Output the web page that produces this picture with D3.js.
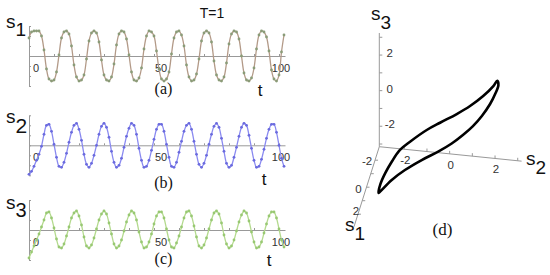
<!DOCTYPE html>
<html>
<head>
<meta charset="utf-8">
<script src="https://cdn.jsdelivr.net/npm/d3@7"></script>
<style>
  html, body { margin: 0; padding: 0; background: #fff; }
  svg { display: block; }
  text { font-family: "Liberation Sans", Arial, sans-serif; }
  .serif { font-family: "Liberation Serif", "Times New Roman", serif; }
</style>
</head>
<body>
<svg id="chart" width="550" height="275"></svg>
<script>
// time series, one sample per unit of t (t = 0 .. 102)
const s1 = [1.8,2.4,2.5,2.5,2.5,2.0,0.6,-1.3,-2.3,-2.5, -2.4,-1.6,0.1,1.8,2.4,2.5,2.2,1.0,-0.9,-2.1,
  -2.5,-2.4,-1.9,-0.3,1.5,2.3,2.5,2.3,1.4,-0.4, -1.9,-2.4,-2.5,-2.1,-0.8,1.1,2.2,2.5,2.4,1.7,
  0.1,-1.6,-2.4,-2.5,-2.2,-1.2,0.7,2.0,2.5,2.4, 2.0,0.5,-1.3,-2.3,-2.5,-2.3,-1.6,0.2,1.8,2.4,
  2.5,2.1,1.0,-0.9,-2.1,-2.5,-2.4,-1.8,-0.3,1.5, 2.3,2.5,2.3,1.4,-0.5,-1.9,-2.4,-2.5,-2.1,-0.7,
  1.2,2.2,2.5,2.4,1.7,0.0,-1.7,-2.4,-2.5,-2.2, -1.2,0.7,2.1,2.5,2.4,1.9,0.5,-1.4,-2.3,-2.5,
  -1.9,0.4,2.1];
const s2 = [-2.9,-2.6,-2.1,-1.5,-0.9,-0.1,1.1,2.0,2.1,1.4, 0.1,-1.2,-2.1,-2.2,-1.7,-0.8,0.3,1.3,2.0,2.2,
  1.6,0.5,-0.9,-1.9,-2.2,-1.8,-1.0,0.0,1.1,1.9, 2.2,1.8,0.8,-0.6,-1.7,-2.2,-2.0,-1.3,-0.2,0.9,
  1.7,2.2,2.0,1.1,-0.3,-1.5,-2.2,-2.1,-1.5,-0.5, 0.6,1.6,2.1,2.1,1.4,0.1,-1.2,-2.1,-2.2,-1.7,
  -0.7,0.4,1.4,2.0,2.2,1.6,0.4,-0.9,-1.9,-2.2, -1.8,-1.0,0.1,1.1,1.9,2.2,1.8,0.7,-0.6,-1.8,
  -2.2,-2.0,-1.2,-0.2,0.9,1.8,2.2,2.0,1.0,-0.3, -1.5,-2.2,-2.1,-1.4,-0.4,0.7,1.6,2.1,2.1,1.3,
  0.0,-1.3,-2.1];
const s3 = [-2.8,-2.2,-1.6,-1.0,-0.4,0.3,1.0,1.7,
  1.8,1.2,0.2,-0.9,-1.7,-1.8,-1.4,-0.6,0.3,1.2, 1.7,1.9,1.4,0.5,-0.7,-1.6,-1.8,-1.5,-0.8,0.1,
  1.0,1.6,1.9,1.6,0.7,-0.4,-1.4,-1.8,-1.6,-1.0, -0.1,0.8,1.5,1.9,1.7,1.0,-0.2,-1.2,-1.8,-1.7,
  -1.2,-0.4,0.6,1.4,1.8,1.8,1.2,0.1,-1.0,-1.7, -1.8,-1.3,-0.6,0.3,1.2,1.8,1.9,1.4,0.4,-0.7,
  -1.6,-1.8,-1.5,-0.8,0.1,1.0,1.7,1.9,1.6,0.7, -0.5,-1.4,-1.8,-1.6,-1.0,-0.1,0.8,1.5,1.9,1.7,
  0.9,-0.2,-1.2,-1.8,-1.7,-1.2,-0.3,0.6,1.4,1.8, 1.8,1.2,0.1,-1.0,-1.7];
const tTickLabels = [0, 50, 100];

// steady-state loop in (s1, s2, s3) space, panel (d)
const loopS1 = [-2.5,-2.5,-2.4,-2.2,-1.9,-1.6,-1.3,-0.9,-0.4,0.2,0.8,1.3,1.6,
  1.7,1.9,2.0,1.9,1.6,1.2,0.7,0.1,-0.5,-1.2,-1.8,-2.3];
const loopS2 = [2.19,2.02,1.59,1.05,0.52,-0.16,-0.69,-1.35,-1.70,-1.95,-2.13,-2.24,-2.27,
  -2.19,-1.63,-1.03,-0.31,0.36,0.88,1.28,1.61,1.89,2.12,2.24,2.28];
const loopS3 = [1.62,1.30,0.76,0.28,-0.01,-0.36,-0.61,-1.05,-1.18,-1.42,-1.64,-1.87,-2.15,
  -2.00,-1.11,-0.40,0.18,0.51,0.73,0.88,0.97,1.12,1.29,1.44,1.54];
const cubeTickLabels = [-2, 0, 2];

const svg = d3.select("#chart");
const axisColor = "#999";

// ---------- panels (a), (b), (c) ----------
const x = d3.scaleLinear().domain([0, 102.4]).range([29, 285]);

const panels = [
  { data: s1, zero: 56,  sub: "1", tag: "(a)", line: "#b39a88", dot: "#8a9c78",
    sY: 28, subDy: 8, subSize: 19, tX: 260, tY: 96, tagY: 94 },
  { data: s2, zero: 145.3, sub: "2", tag: "(b)", line: "#8a8af0", dot: "#6a6ade",
    sY: 122.5, subDy: 10.5, subSize: 21, tX: 264, tY: 185, tagY: 188 },
  { data: s3, zero: 230, sub: "3", tag: "(c)", line: "#b4da8e", dot: "#98c872",
    sY: 208.5, subDy: 8.5, subSize: 20, tX: 269, tY: 266, tagY: 264 }
];

panels.forEach(p => {
  const y = d3.scaleLinear().domain([-3, 3]).range([p.zero + 30, p.zero - 30]);
  const g = svg.append("g");

  // t axis
  g.append("g")
    .attr("transform", `translate(0,${p.zero})`)
    .call(d3.axisTop(x).tickValues(d3.range(0, 101, 10)).tickSize(2).tickSizeOuter(0).tickFormat(""))
    .call(a => a.selectAll("path,line").attr("stroke", axisColor));

  // s axis
  g.append("g")
    .attr("transform", `translate(${x(0)},0)`)
    .call(d3.axisRight(y).tickValues(d3.range(-3, 4, 1)).tickSize(2).tickSizeOuter(0).tickFormat(""))
    .call(a => a.selectAll("path,line").attr("stroke", axisColor));

  // tick labels
  g.selectAll(".tl").data(tTickLabels).enter().append("text")
    .attr("x", (d, i) => x(d) + (i < 2 ? 7 : 2))
    .attr("y", p.zero + 16)
    .attr("text-anchor", "middle")
    .attr("font-size", 11)
    .attr("fill", "#333")
    .text(d => d);

  const line = d3.line()
    .x((d, i) => x(i))
    .y(d => y(d))
    .curve(d3.curveCatmullRom.alpha(0.5));

  g.append("path")
    .datum(p.data)
    .attr("d", line)
    .attr("fill", "none")
    .attr("stroke", p.line)
    .attr("stroke-width", 1.3);

  g.selectAll("circle").data(p.data).enter().append("circle")
    .attr("cx", (d, i) => x(i))
    .attr("cy", d => y(d))
    .attr("r", 1.4)
    .attr("fill", p.dot);

  // labels
  const sl = g.append("text").attr("x", 6).attr("y", p.sY).attr("font-size", 19).attr("fill", "#111");
  sl.append("tspan").text("s");
  sl.append("tspan").attr("dy", p.subDy).attr("font-size", p.subSize).text(p.sub);

  g.append("text").attr("x", p.tX).attr("y", p.tY)
    .attr("text-anchor", "middle").attr("font-size", 17).attr("fill", "#111").text("t");

  g.append("text").attr("class", "serif").attr("x", 163.5).attr("y", p.tagY)
    .attr("text-anchor", "middle").attr("font-size", 16).attr("fill", "#111").text(p.tag);
});

svg.append("text").attr("x", 212).attr("y", 18).attr("text-anchor", "middle")
  .attr("font-size", 14).attr("fill", "#111").text("T=1");

// ---------- panel (d): oblique 3D axes ----------
const O = [379.3, 146.7];
const sx1 = d3.scaleLinear().domain([-3, 3]).range([0, -25.6]);
const sy1 = d3.scaleLinear().domain([-3, 3]).range([0, 81]);
const sx2 = d3.scaleLinear().domain([-3.1, 3.1]).range([0, 140.7]);
const sy2 = d3.scaleLinear().domain([-3.1, 3.1]).range([0, 14.3]);
const sy3 = d3.scaleLinear().domain([-3.15, 3.15]).range([0, -112.1]);
const proj = (a, b, c) => [O[0] + sx1(a) + sx2(b), O[1] + sy1(a) + sy2(b) + sy3(c)];

const gd = svg.append("g");
const axes = [
  { from: proj(-3, -3.1, -3.15), to: proj(2.93, -3.1, -3.15) },
  { from: proj(-3, -3.1, -3.15), to: proj(-3, 3.17, -3.15) },
  { from: proj(-3, -3.1, -3.15), to: proj(-3, -3.1, 3.24) }
];
gd.selectAll(".ax").data(axes).enter().append("line")
  .attr("x1", d => d.from[0]).attr("y1", d => d.from[1])
  .attr("x2", d => d.to[0]).attr("y2", d => d.to[1])
  .attr("stroke", axisColor).attr("stroke-width", 1);

// ticks
const tick = (pts, dx, dy) => gd.selectAll(null).data(pts).enter().append("line")
  .attr("x1", d => d[0]).attr("y1", d => d[1])
  .attr("x2", d => d[0] + dx).attr("y2", d => d[1] + dy)
  .attr("stroke", axisColor);
tick(d3.range(-2, 3).map(v => proj(v, -3.1, -3.15)), 3, 0);
tick(d3.range(-2, 4).map(v => proj(-3, v, -3.15)), 0, -3);
tick(d3.range(-3, 4).map(v => proj(-3, -3.1, v)), 3, 0);

const tlab = (pts, dx, dy) => gd.selectAll(null).data(pts).enter().append("text")
  .attr("x", (d, i) => d.p[0] + (Array.isArray(dx) ? dx[i] : dx))
  .attr("y", (d, i) => d.p[1] + (Array.isArray(dy) ? dy[i] : dy))
  .attr("text-anchor", "middle").attr("font-size", 11.5).attr("fill", "#333")
  .text(d => d.v);
// s1 axis is foreshortened in the original, so its labels get their own offsets
tlab(cubeTickLabels.map(v => ({ v, p: proj(v, -3.1, -3.15) })), [-8, -8, -2], [5, 6, 1]);
tlab(cubeTickLabels.map(v => ({ v, p: proj(-3, v, -3.15) })), 1, 15);
tlab(cubeTickLabels.map(v => ({ v, p: proj(-3, -3.1, v) })), 10.5, 2);

// loop
const loopPts = loopS1.map((a, i) => proj(a, loopS2[i], loopS3[i]));
gd.append("path")
  .attr("d", d3.line().curve(d3.curveCatmullRomClosed.alpha(0.5))(loopPts))
  .attr("fill", "none").attr("stroke", "#000").attr("stroke-width", 2.6)
  .attr("stroke-linejoin", "round");

// axis names
const axName = (xp, yp, sub) => {
  const t = gd.append("text").attr("x", xp).attr("y", yp).attr("font-size", 19).attr("fill", "#111");
  t.append("tspan").text("s");
  t.append("tspan").attr("dy", 9).attr("font-size", 19).text(sub);
};
axName(371, 20, "3");
axName(526, 165, "2");
axName(345, 231, "1");

gd.append("text").attr("class", "serif").attr("x", 442.5).attr("y", 235)
  .attr("text-anchor", "middle").attr("font-size", 17).attr("fill", "#111").text("(d)");
</script>
</body>
</html>
